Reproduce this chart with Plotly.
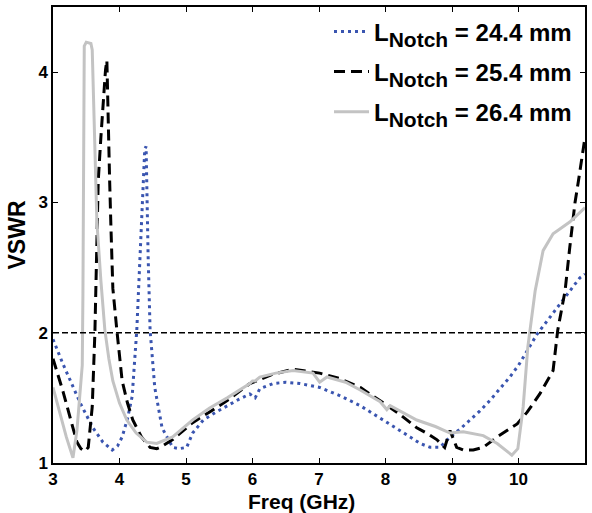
import plotly.graph_objects as go

# ---- data ----
freq_244 = [3.0, 3.15, 3.41, 3.6, 3.75, 3.89, 3.97, 4.04, 4.12, 4.19, 4.26, 4.31, 4.33, 4.36, 4.38, 4.40, 4.41,
            4.43, 4.46, 4.53, 4.64, 4.71, 4.80, 4.9, 5.01, 5.1, 5.26, 5.45, 5.62, 5.8, 5.96, 6.04, 6.11, 6.31,
            6.5, 6.71, 7.01, 7.3, 7.62, 7.97, 8.2, 8.37, 8.52, 8.67, 8.82, 8.97, 9.12, 9.27, 9.42, 9.57, 9.72,
            9.87, 10.0, 10.13, 10.28, 10.43, 10.58, 10.75, 10.92, 11.0]
vswr_244 = [1.95, 1.76, 1.46, 1.27, 1.16, 1.10, 1.13, 1.20, 1.34, 1.51, 2.02, 2.6, 2.88, 3.2, 3.41, 3.43, 3.03,
            2.6, 2.02, 1.58, 1.27, 1.2, 1.12, 1.11, 1.12, 1.23, 1.33, 1.39, 1.44, 1.49, 1.53, 1.50, 1.57, 1.61,
            1.62, 1.61, 1.58, 1.52, 1.44, 1.33, 1.26, 1.20, 1.15, 1.12, 1.12, 1.20, 1.26, 1.33, 1.40, 1.48, 1.57,
            1.66, 1.75, 1.86, 1.99, 2.09, 2.19, 2.3, 2.42, 2.45]

freq_254 = [3.0, 3.15, 3.3, 3.36, 3.42, 3.48, 3.53, 3.59, 3.63, 3.66, 3.68, 3.72, 3.76, 3.79, 3.81, 3.83, 3.85,
            3.87, 3.90, 3.96, 4.04, 4.12, 4.20, 4.33, 4.46, 4.56, 4.61, 4.8, 5.1, 5.35, 5.62, 5.96, 6.3, 6.61,
            7.01, 7.3, 7.62, 7.97, 8.2, 8.47, 8.65, 8.77, 8.89, 8.97, 9.07, 9.17, 9.32, 9.47, 9.68, 9.98, 10.13,
            10.32, 10.45, 10.52, 10.59, 10.70, 10.77, 10.85, 10.90, 10.95, 11.0]
vswr_254 = [1.80, 1.55, 1.27, 1.16, 1.11, 1.09, 1.12, 1.43, 2.0, 2.6, 3.16, 3.5, 3.85, 4.02, 4.09, 3.54, 3.2,
            2.83, 2.34, 2.02, 1.63, 1.46, 1.33, 1.2, 1.12, 1.11, 1.12, 1.18, 1.31, 1.39, 1.48, 1.61, 1.68, 1.72,
            1.69, 1.65, 1.58, 1.46, 1.38, 1.27, 1.22, 1.18, 1.12, 1.25, 1.12, 1.10, 1.10, 1.12, 1.20, 1.30, 1.39,
            1.53, 1.64, 1.71, 2.02, 2.32, 2.65, 3.0, 3.16, 3.33, 3.50]

freq_264 = [3.0, 3.1, 3.2, 3.30, 3.36, 3.40, 3.44, 3.45, 3.46, 3.47, 3.50, 3.57, 3.59, 3.62, 3.66, 3.72, 3.78,
            3.84, 3.90, 4.0, 4.11, 4.25, 4.41, 4.56, 4.8, 5.1, 5.35, 5.62, 5.96, 6.0, 6.04, 6.11, 6.35, 6.61,
            6.91, 7.01, 7.12, 7.4, 7.62, 7.92, 8.02, 8.07, 8.3, 8.47, 8.75, 8.97, 9.17, 9.47, 9.68, 9.80, 9.90,
            9.99, 10.07, 10.14, 10.25, 10.37, 10.52, 10.77, 10.97, 11.0]
vswr_264 = [1.58, 1.38, 1.2, 1.04, 1.25, 1.5, 1.75, 2.3, 3.2, 4.2, 4.23, 4.22, 4.17, 3.5, 2.85, 2.4, 2.02,
            1.8, 1.63, 1.46, 1.33, 1.23, 1.16, 1.15, 1.2, 1.33, 1.42, 1.50, 1.61, 1.63, 1.63, 1.66, 1.69, 1.71,
            1.69, 1.62, 1.66, 1.62, 1.56, 1.47, 1.41, 1.44, 1.38, 1.33, 1.28, 1.23, 1.24, 1.21, 1.15, 1.10, 1.06,
            1.11, 1.43, 1.89, 2.32, 2.63, 2.76, 2.85, 2.95, 2.96]

notch_lengths = ["24.4", "25.4", "26.4"]
threshold = 2
x_ticks = [3, 4, 5, 6, 7, 8, 9, 10, 11]
y_ticks = [1, 2, 3, 4]
x_title = "Freq (GHz)"
y_title = "VSWR"

FONT = "Liberation Sans, Arial, sans-serif"


def legend_name(length):
    return ('<b>L<span style="font-size:30px"><sub>Notch</sub></span>'
            ' = ' + length + ' mm</b>')


fig = go.Figure()
fig.add_trace(go.Scatter(x=freq_244, y=vswr_244, mode="lines", name=legend_name(notch_lengths[0]),
                         legendgroup="a",
                         line=dict(color="#3a55b0", width=3, dash="3px,4px")))
fig.add_trace(go.Scatter(x=freq_254, y=vswr_254, mode="lines", name=legend_name(notch_lengths[1]),
                         legendgroup="b",
                         line=dict(color="black", width=3, dash="11px,6px")))
fig.add_trace(go.Scatter(x=freq_264, y=vswr_264, mode="lines", name=legend_name(notch_lengths[2]),
                         legendgroup="c",
                         line=dict(color="#c3c3c3", width=3)))

fig.add_hline(y=threshold, line=dict(color="black", width=1.5, dash="6px,3px"))

axis_common = dict(showline=True, linecolor="black", linewidth=1.5, mirror="ticks",
                   ticks="inside", ticklen=5, tickcolor="black", tickwidth=1,
                   showgrid=False, zeroline=False,
                   tickfont=dict(family=FONT, size=17, color="black", weight="bold"))

fig.update_xaxes(range=[3, 11], tickvals=x_ticks, **axis_common)
fig.update_yaxes(range=[1, 4.5], tickvals=y_ticks,
                 title=dict(text="<b>" + y_title + "</b>", font=dict(family=FONT, size=23, color="black"),
                            standoff=6),
                 **axis_common)

fig.add_annotation(text="<b>" + x_title + "</b>", xref="paper", yref="paper",
                   x=0.468, y=0, yshift=-25, xanchor="center", yanchor="top", showarrow=False,
                   font=dict(family=FONT, size=21, color="black"))

fig.update_layout(
    width=592, height=513,
    margin=dict(l=53, r=7, t=5, b=50),
    plot_bgcolor="white", paper_bgcolor="white",
    font=dict(family=FONT, color="black"),
    legend=dict(x=0.985, y=0.995, xanchor="right", yanchor="top",
                bgcolor="rgba(0,0,0,0)", font=dict(family=FONT, size=24, color="black"),
                itemwidth=35, tracegroupgap=6),
)

fig.write_html("out.html")
